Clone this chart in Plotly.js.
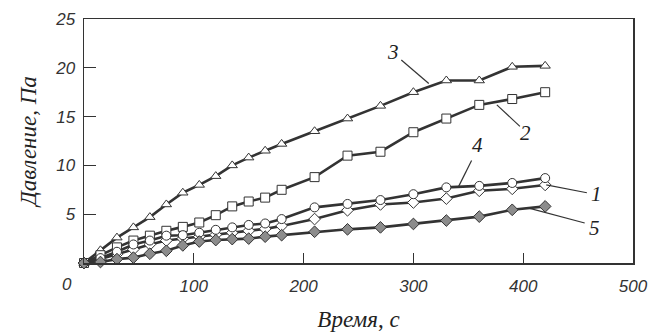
<!DOCTYPE html>
<html>
<head>
<meta charset="utf-8">
<script src="https://cdn.plot.ly/plotly-3.0.1.min.js"></script>
<style>html,body{margin:0;padding:0;background:#fff;}#chart{width:654px;height:334px;}</style>
</head>
<body>
<div id="chart"></div>
<script>
// Time, s
var time = [0, 15, 30, 45, 60, 75, 90, 105, 120, 135, 150, 165, 180, 210, 240, 270, 300, 330, 360, 390, 420];
// Pressure, Pa, per curve
var curve1 = [0, 0.5, 1.15, 1.9, 2.3, 2.8, 2.85, 3.1, 3.4, 3.65, 3.9, 4.05, 4.5, 5.7, 6.05, 6.45, 7.05, 7.75, 7.9, 8.2, 8.7];
var curve2 = [0, 0.8, 1.6, 2.3, 2.8, 3.3, 3.7, 4.15, 4.9, 5.8, 6.3, 6.7, 7.5, 8.8, 11.0, 11.4, 13.4, 14.8, 16.2, 16.8, 17.5];
var curve3 = [0, 1.3, 2.6, 3.65, 4.7, 6.0, 7.2, 8.0, 8.9, 10.0, 10.8, 11.5, 12.2, 13.5, 14.8, 16.1, 17.5, 18.7, 18.7, 20.1, 20.2];
var curve4 = [0, 0.4, 0.9, 1.4, 1.9, 2.3, 2.5, 2.7, 2.9, 3.1, 3.3, 3.5, 3.8, 4.5, 5.4, 6.0, 6.2, 6.6, 7.4, 7.6, 8.0];
var curve5 = [0, 0.1, 0.4, 0.55, 0.95, 1.25, 1.8, 2.2, 2.35, 2.45, 2.5, 2.7, 2.85, 3.2, 3.45, 3.65, 4.0, 4.35, 4.75, 5.45, 5.8];
var curveNames = ['1', '2', '3', '4', '5'];
var xTicks = [100, 200, 300, 400, 500];
var yTicks = [5, 10, 15, 20, 25];

var lineCol = '#333333';
function tr(y, name, symbol, fill) {
  return {
    x: time, y: y, name: name, type: 'scatter', mode: 'lines+markers',
    line: {color: lineCol, width: 2.6},
    marker: {symbol: symbol, size: 9, color: fill, line: {color: lineCol, width: 1}},
    showlegend: false, cliponaxis: false
  };
}
var data = [
  tr(curve3, curveNames[2], 'triangle-up', '#ffffff'),
  tr(curve2, curveNames[1], 'square', '#ffffff'),
  tr(curve4, curveNames[3], 'diamond', '#ffffff'),
  tr(curve1, curveNames[0], 'circle', '#ffffff'),
  tr(curve5, curveNames[4], 'diamond', '#8c8c8c')
];

var serifIt = {family: 'Liberation Serif, Times New Roman, serif', size: 21, color: '#222'};
var serifTitle = {family: 'Liberation Serif, Times New Roman, serif', size: 23, color: '#222'};
var sansTick = {family: 'Liberation Sans, Arial, sans-serif', size: 17, color: '#333'};
function lab(t, x, y) {
  return {text: '<i>' + t + '</i>', x: x, y: y, xref: 'x', yref: 'y', showarrow: false, font: serifIt};
}
function seg(x0, y0, x1, y1) {
  return {type: 'line', xref: 'x', yref: 'y', x0: x0, y0: y0, x1: x1, y1: y1, line: {color: lineCol, width: 1.2}};
}
function itl(arr) { return arr.map(function (v) { return '<i>' + v + '</i>'; }); }

var layout = {
  width: 654, height: 334,
  margin: {l: 84, r: 21, t: 19, b: 71},
  paper_bgcolor: '#fff', plot_bgcolor: '#fff',
  font: {family: 'Liberation Sans, Arial, sans-serif', color: '#333'},
  xaxis: {
    range: [0, 500], tickvals: xTicks, ticktext: itl(xTicks), ticks: 'inside', ticklen: 10, tickwidth: 1.3, tickcolor: lineCol,
    showline: true, linecolor: lineCol, linewidth: 1.5, mirror: true, showgrid: false, zeroline: false,
    tickfont: sansTick,
    ticklabelstandoff: 7,
    title: {text: '<i>Время</i>, <i>с</i>', font: serifTitle, standoff: 16}
  },
  yaxis: {
    range: [0, 25], tickvals: yTicks, ticktext: itl(yTicks), ticks: 'inside', ticklen: 12, tickwidth: 1.3, tickcolor: lineCol,
    showline: true, linecolor: lineCol, linewidth: 1.5, mirror: true, showgrid: false, zeroline: false,
    tickfont: sansTick,
    ticklabelstandoff: 4,
    title: {text: '<i>Давление, Па</i>', font: serifTitle, standoff: 12}
  },
  annotations: [
    {text: '<i>0</i>', xref: 'paper', yref: 'paper', x: -0.031, y: -0.09, xanchor: 'center', yanchor: 'middle',
     showarrow: false, font: sansTick},
    lab('3', 281, 21.6), lab('2', 402, 13.3), lab('4', 358, 12.1), lab('1', 467, 7.1), lab('5', 465, 3.55)
  ],
  shapes: [
    seg(289, 20.8, 314, 18.4),
    seg(376, 16.2, 397, 14.0),
    seg(353, 10.5, 341, 7.8),
    seg(421, 8.0, 458, 7.2),
    seg(406, 5.6, 456, 4.1)
  ]
};
Plotly.newPlot('chart', data, layout, {displayModeBar: false, staticPlot: true});
</script>
</body>
</html>
